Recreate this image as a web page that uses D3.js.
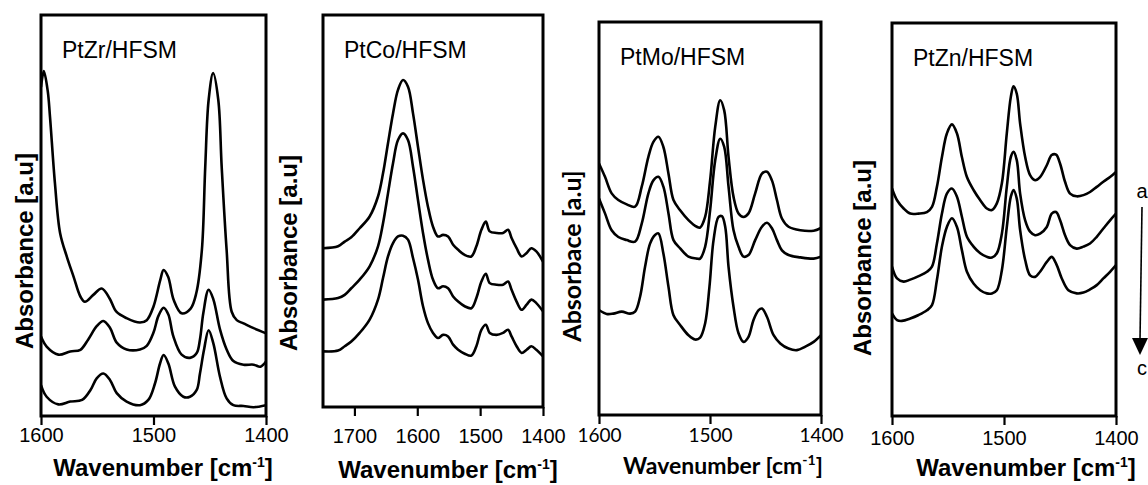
<!DOCTYPE html>
<meta charset="utf-8">
<style>
body { margin: 0; background: #fff; }
svg { display: block; }
.arial { font-family: "Liberation Sans", Arial, sans-serif; }
.calib { font-family: Lato, "Open Sans", sans-serif; }
</style>
<body>
<div id="chart"></div>
<script src="https://cdnjs.cloudflare.com/ajax/libs/d3/7.8.5/d3.min.js"></script>
<script>
// spectra: [wavenumber, absorbance (a.u., 0 = bottom of frame, 100 = top)]
var ptZrA = [[1600,82],[1597.5,86],[1594,81],[1592,74.6],[1587.6,58],[1583,45.6],[1577,39.7],[1571,34.7],[1565,29.8],[1561,28.5],[1553.5,30.2],[1546,31.8],[1539,29.3],[1533,26],[1524,24.4],[1512,23.3],[1506,23.9],[1500,27.3],[1494,33.9],[1491,36.4],[1487,34.7],[1482,28.9],[1475,25.6],[1467,26.8],[1462,30.6],[1457,41.4],[1454,62.2],[1451,78.8],[1447,85.5],[1442.4,78.8],[1439.4,62.2],[1435,41.4],[1430.5,26],[1426,23.9],[1420,23.1],[1411,21.9],[1400,20.6]];
var ptZrB = [[1600,19.8],[1595,17.3],[1584.6,15.3],[1574,16.1],[1565,16.5],[1558,19.1],[1550.5,22.4],[1544.6,23.7],[1538.7,22],[1532.7,18.3],[1523.9,16.6],[1512,16.6],[1506,17.5],[1500,20.8],[1495.7,24.9],[1491,27],[1486.8,25.3],[1482.4,19.9],[1475,15.3],[1467.6,14.5],[1461.6,15.7],[1458.7,19.1],[1455.7,25.7],[1451,31.5],[1446.8,29.1],[1440.9,21.6],[1435,16.6],[1429,13.7],[1420,12.8],[1411,12.8],[1405,12.3],[1400,13.6]];
var ptZrC = [[1600,7.7],[1595,4.8],[1584.6,2.9],[1574,3.6],[1563.5,4],[1556,6.5],[1550.5,9.4],[1544.6,10.6],[1538.7,9],[1532.7,5.7],[1523.9,3.6],[1512,2.7],[1504.6,4],[1498.7,8.1],[1494.2,13.1],[1491,15.2],[1486.8,13.1],[1480.9,7.3],[1473.5,4.8],[1467.6,4.8],[1461.6,6.5],[1458.7,10.6],[1455.1,16.5],[1451,21.4],[1446.8,18.1],[1440.9,9.8],[1435,4.4],[1429,2.7],[1420,2.5],[1411,2.2],[1400,2.7]];

var ptCoA = [[1750,40.5],[1726,41],[1715.5,42.2],[1705,43.3],[1691.7,45.6],[1675.8,48.6],[1662.5,53.7],[1654.5,59.6],[1646.6,67.3],[1638.6,74.9],[1630.7,80.9],[1622.7,83.4],[1614.8,81.7],[1606.8,74.9],[1598.9,66.4],[1590.9,58],[1583,51.1],[1575,46],[1567,43.5],[1559,43.9],[1551,43.5],[1543,41.4],[1535,40.1],[1524.6,38.8],[1514,38.4],[1506,41],[1498,45.2],[1491,47.3],[1484.8,44.8],[1474,44.4],[1463.6,44.4],[1455.6,45.2],[1450,43.1],[1442,40.5],[1434,38.4],[1426,39.3],[1418.5,40.5],[1410.6,39.7],[1400,37.1]];
var ptCoB = [[1750,27.4],[1726,27.8],[1715.5,28.6],[1705,30.3],[1691.7,32.5],[1675.8,35.9],[1662.5,41],[1654.5,46.9],[1646.6,54.5],[1638.6,62.2],[1630.7,68.1],[1622.7,69.8],[1614.8,68.1],[1606.8,61.3],[1598.9,52.8],[1590.9,44.4],[1583,37.6],[1575,32.5],[1567,30.3],[1559,30.8],[1551,30.3],[1543,28.2],[1535,26.9],[1524.6,25.7],[1514,25.2],[1506,27.8],[1498,32],[1491,34],[1484.8,31.6],[1474,31.2],[1463.6,31.2],[1455.6,32],[1450,29.9],[1442,26.9],[1434,24.8],[1426,26.1],[1418.5,27.4],[1410.6,26.5],[1400,24.4]];
var ptCoC = [[1750,14.2],[1726,14.4],[1715.5,15.5],[1705,16.7],[1691.7,18.9],[1675.8,22.3],[1662.5,27.4],[1654.5,32.9],[1646.6,38.4],[1638.6,41.8],[1630.7,43.5],[1622.7,43.7],[1614.8,42.7],[1606.8,38],[1598.9,32.5],[1590.9,25.7],[1583,21.4],[1575,18.9],[1567,17.6],[1559,18.4],[1551,18],[1543,15.9],[1535,14.6],[1524.6,13.6],[1514,13.1],[1506,15.5],[1498,19.7],[1491,21],[1484.8,18.9],[1474,18.4],[1463.6,18.9],[1455.6,19.7],[1450,18],[1442,15.5],[1434,13.8],[1426,14.6],[1418.5,15.5],[1410.6,14.6],[1400,12.9]];

var ptMoA = [[1600,64],[1594.6,60.6],[1588.6,56.4],[1582.6,54.7],[1575,53.6],[1567.5,53],[1561.5,58.1],[1555.5,65.7],[1551,69.5],[1546.5,70.8],[1542,68.2],[1537.4,61.4],[1532.9,54.7],[1526.9,52.1],[1519.4,49.6],[1511.9,47.9],[1508.9,47.7],[1504.4,50.4],[1499.9,59.7],[1495.3,73.3],[1490.8,80.1],[1487.2,77.5],[1483.3,65.7],[1478.8,55.5],[1474.3,51.3],[1469.8,50.4],[1465.3,51.3],[1459.3,56.4],[1453.2,61.4],[1448.7,61.9],[1444.2,59.7],[1439.7,54.7],[1435.2,50],[1429.2,47.9],[1418.6,47],[1406.6,46.9],[1400,47.6]];
var ptMoB = [[1600,55.1],[1594.6,51.3],[1588.6,47],[1582.6,45.3],[1575,44.5],[1567.5,44.1],[1561.5,48.7],[1555.5,56.4],[1551,59.7],[1546.5,60.6],[1542,58.1],[1537.4,51.3],[1532.9,44.5],[1526.9,42.4],[1519.4,40.3],[1511.9,39.8],[1508.9,39.8],[1504.4,42.8],[1499.9,52.1],[1495.3,64.8],[1490.8,70.3],[1487.2,68.2],[1483.3,58.1],[1478.8,47],[1474.3,42.8],[1469.8,40.3],[1465.3,40.7],[1459.3,44.5],[1453.2,47.9],[1448.7,48.9],[1444.2,47.5],[1439.7,44.5],[1435.2,41.9],[1429.2,40.7],[1418.6,40.1],[1406.6,39.8],[1400,40.3]];
var ptMoC = [[1600,26.7],[1593.1,25.7],[1587.1,25.8],[1579.5,26.3],[1572,25.8],[1567.5,26.3],[1563,30.1],[1558.5,37.7],[1554,43.6],[1549.5,45.8],[1546.5,46.2],[1542,41.1],[1537.4,32.6],[1532.9,25.4],[1526.9,22.9],[1519.4,20.3],[1513.4,19.2],[1508.9,19.7],[1504.4,23.3],[1500.5,32.6],[1496.8,44.5],[1492.3,50.4],[1489.3,50.6],[1486.3,47.9],[1483.3,37.7],[1478.8,27.5],[1474.3,20.8],[1469.8,18.6],[1465.3,19.9],[1460.8,24.2],[1456.2,26.7],[1453.2,27.1],[1448.7,25],[1442.7,20.3],[1436.7,18.2],[1429.2,16.9],[1421.7,16.5],[1414.1,17.4],[1406.6,18.6],[1400,20.3]];

var ptZnA = [[1600,57.9],[1595.5,54.9],[1589.6,52.8],[1583.7,51.5],[1576.2,51.5],[1568.8,51.9],[1564.3,53.2],[1559.9,58.3],[1555.4,65.9],[1551,71.9],[1546.5,74.2],[1542,71.9],[1537.6,65.9],[1533.1,60.8],[1527.2,57.5],[1521.2,54.9],[1515.3,52.8],[1510.8,52.4],[1506.4,54.1],[1501.9,59.2],[1497.5,71.9],[1493.9,81.2],[1491.5,83.9],[1488.6,82],[1485.6,74.4],[1481.1,65.9],[1476.7,61.3],[1472.2,60],[1467.8,60.8],[1461.8,63.8],[1457.4,66.4],[1453.5,66.5],[1449.9,64.2],[1445.5,59.6],[1441,56.6],[1435.1,55.9],[1429.1,56.2],[1423.2,57],[1417.2,58.3],[1411.3,59.6],[1405.3,60.8],[1400,62.1]];
var ptZnB = [[1600,38],[1595.5,35],[1589.6,34.2],[1583.7,34.7],[1576.2,35.6],[1568.8,36.7],[1564.3,38],[1559.9,43.9],[1555.4,51.5],[1551,56.6],[1546.5,57.9],[1542,55.8],[1537.6,50.7],[1533.1,45.6],[1527.2,43.1],[1521.2,41.4],[1515.3,40.5],[1510.8,40.3],[1506.4,41.4],[1501.9,46.4],[1497.5,58.3],[1493.9,65.9],[1491.5,67.2],[1488.6,65.1],[1485.6,56.6],[1481.1,49.8],[1476.7,46.9],[1472.2,46],[1467.8,46.4],[1461.8,48.1],[1457.4,51.5],[1453.5,51.9],[1449.9,49.8],[1445.5,46],[1441,43.5],[1435.1,42.6],[1429.1,43.1],[1423.2,43.9],[1417.2,45.6],[1411.3,47.7],[1405.3,49.8],[1400,51.5]];
var ptZnC = [[1600,26.1],[1595.5,24.4],[1591.1,24.2],[1583.7,24.8],[1576.2,25.7],[1568.8,26.9],[1564.3,28.2],[1559.9,34.6],[1555.4,43.1],[1551,48.1],[1546.5,50.3],[1542,48.1],[1537.6,42.2],[1533.1,36.7],[1527.2,33.7],[1521.2,32],[1515.3,31.2],[1510.8,31.2],[1506.4,32],[1501.9,37.1],[1497.5,48.1],[1493.9,55.8],[1491.5,57.5],[1488.6,55.3],[1485.6,47.3],[1481.1,39.7],[1476.7,35.8],[1472.2,35.4],[1467.8,36.7],[1461.8,39.2],[1457.4,40.5],[1452.9,38.4],[1448.4,35],[1442.5,32],[1435.1,31.2],[1429.1,31.4],[1423.2,32.2],[1417.2,33.3],[1411.3,35],[1405.3,36.7],[1400,38.4]];

var panelNames = ["PtZr/HFSM", "PtCo/HFSM", "PtMo/HFSM", "PtZn/HFSM"];
var yTitles = ["Absorbance [a.u]", "Absorbance [a.u]", "Absorbace [a.u]", "Absorbance [a.u]"];
var xDomains = [[1600, 1400], [1750, 1400], [1600, 1400], [1600, 1400]];
var xTicks = [[1600, 1500, 1400], [1700, 1600, 1500, 1400], [1600, 1500, 1400], [1600, 1500, 1400]];
var spectra = [[ptZrA, ptZrB, ptZrC], [ptCoA, ptCoB, ptCoC], [ptMoA, ptMoB, ptMoC], [ptZnA, ptZnB, ptZnC]];
var arrowLabels = ["a", "c"];

var W = 1148, H = 485;

// frame boxes and text positions of each panel (pixels)
var layout = [
  {l: 41,  r: 266,  t: 15, b: 416, tickY: 442, titleX: 163,  titleY: 476, yx: 33,  yy: 251, font: "arial"},
  {l: 323, r: 543,  t: 15, b: 407, tickY: 443, titleX: 448,  titleY: 478, yx: 297, yy: 253, font: "arial"},
  {l: 599, r: 821,  t: 22, b: 415, tickY: 442, titleX: 723,  titleY: 474, yx: 581, yy: 256, font: "calib"},
  {l: 892, r: 1116, t: 23, b: 416, tickY: 445, titleX: 1026, titleY: 476, yx: 871, yy: 258, font: "arial"}
];

var svg = d3.select("#chart").append("svg").attr("width", W).attr("height", H);

var defs = svg.append("defs");

layout.forEach(function(p, i) {
  var x = d3.scaleLinear().domain(xDomains[i]).range([p.l, p.r]);
  var y = d3.scaleLinear().domain([0, 100]).range([p.b, p.t]);
  var g = svg.append("g");

  defs.append("clipPath").attr("id", "clip" + i)
    .append("rect").attr("x", p.l).attr("y", p.t).attr("width", p.r - p.l).attr("height", p.b - p.t);

  var line = d3.line()
    .x(function(d) { return x(d[0]); })
    .y(function(d) { return y(d[1]); })
    .curve(d3.curveCatmullRom.alpha(0.5));

  g.append("g").attr("clip-path", "url(#clip" + i + ")")
    .selectAll("path")
    .data(spectra[i])
    .enter()
    .append("path")
    .attr("d", line)
    .attr("fill", "none")
    .attr("stroke", "#000")
    .attr("stroke-width", 2.6)
    .attr("stroke-linejoin", "round");

  // bottom axis with outward ticks
  var ax = g.append("g")
    .attr("transform", "translate(0," + p.b + ")")
    .call(d3.axisBottom(x).tickValues(xTicks[i]).tickSize(9).tickSizeOuter(0).tickFormat(d3.format("d")));
  ax.select(".domain").remove();
  ax.selectAll("line").attr("stroke", "#000").attr("stroke-width", 2.2);
  ax.selectAll("text")
    .attr("class", p.font)
    .attr("y", null).attr("dy", null)
    .attr("transform", "translate(0," + (p.tickY - p.b) + ")")
    .attr("font-size", p.font == "calib" ? 19 : 20)
    .attr("fill", "#000");

  // frame
  g.append("rect")
    .attr("x", p.l).attr("y", p.t)
    .attr("width", p.r - p.l).attr("height", p.b - p.t)
    .attr("fill", "none").attr("stroke", "#000").attr("stroke-width", 3);

  g.append("text")
    .attr("class", "arial")
    .attr("x", p.l + 21).attr("y", p.t + 43)
    .attr("font-size", 23)
    .text(panelNames[i]);

  var xt = g.append("text")
    .attr("class", p.font)
    .attr("x", p.titleX).attr("y", p.titleY)
    .attr("text-anchor", "middle")
    .attr("font-size", p.font == "calib" ? 23 : 24)
    .attr("font-weight", "bold");
  xt.append("tspan").text("Wavenumber [cm");
  xt.append("tspan").attr("dy", -9).attr("font-size", 14).text("-1");
  xt.append("tspan").attr("dy", 9).text("]");

  g.append("text")
    .attr("class", p.font)
    .attr("transform", "translate(" + p.yx + "," + p.yy + ") rotate(-90)")
    .attr("text-anchor", "middle")
    .attr("font-size", p.font == "calib" ? 25 : 24)
    .attr("font-weight", "bold")
    .text(yTitles[i]);
});

// a -> c arrow beside the last panel
var arrow = svg.append("g");
arrow.append("line")
  .attr("x1", 1142).attr("y1", 207).attr("x2", 1140).attr("y2", 340)
  .attr("stroke", "#000").attr("stroke-width", 1.6);
arrow.append("path")
  .attr("d", d3.line()([[1132, 338], [1148, 338], [1140, 355]]) + "Z")
  .attr("fill", "#000");
arrow.selectAll("text")
  .data(arrowLabels)
  .enter()
  .append("text")
  .attr("class", "arial")
  .attr("x", 1142)
  .attr("y", function(d, i) { return i == 0 ? 198 : 375; })
  .attr("text-anchor", "middle")
  .attr("font-size", 20)
  .text(function(d) { return d; });
</script>
</body>
